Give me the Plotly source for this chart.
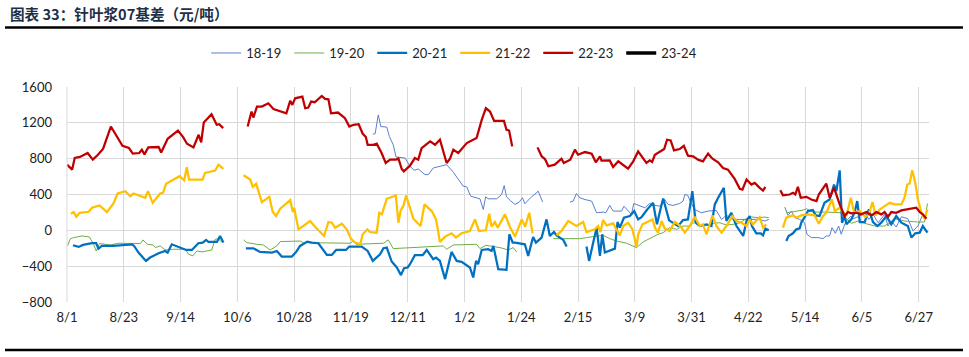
import plotly.graph_objects as go

# ---- tick labels (days since 8/1) ----
tick_days = [0, 22, 44, 66, 88, 110, 132, 154, 176, 198, 220, 242, 264, 286, 308, 330]
tick_labels = ["8/1", "8/23", "9/14", "10/6", "10/28", "11/19", "12/11", "1/2", "1/24",
               "2/15", "3/9", "3/31", "4/22", "5/14", "6/5", "6/27"]
y_ticks = [-800, -400, 0, 400, 800, 1200, 1600]

# ---- series: 18-19 ----
d_1819 = [118.5,119.4,120.6,121.6,123.9,124.9,126.4,127.5,131,132.9,134.5,136.1,138.7,140,141.9,147.1,149.7,153.5,154.9,156.4,160,161.3,162.2,163.2,166.5,168.4,169.4,170.3,172,173.6,175.2,176.5,177.4,179.6,182.6,184.3,
          189,
          194.9,196.1,197.4,198.7,200.7,203.3,205.2,207.7,208.8,210.3,211.6,213.6,214.9,215.8,217.4,218.7,219.6,221.9,223.9,225.8,227.8,229.7,231.6,232.9,234.8,237.4,238.7,239.4,240.6,241.6,243.2,245.8,248.4,251.6,253.6,255.5,258.1,260.7,262.6,265.2,267.8,270.4,271.9,
          275,
          278.1,279.4,280.7,282,283.9,285.8,286.7,288.4,291,292.9,294.2,295.5,296.4,297.7,299,300,301.1,302,303.7,304.6,307.2,309.1,310.7,312.3,314.3,315.5,316.8,318.1,319.4,321.3,323.3,325.8,327.8,329.7,331.6]
v_1819 = [1074,1078,1289,1159,1152,1048,955,819,807,715,670,685,622,622,696,733,648,493,485,381,352,233,374,352,352,400,500,374,326,289,315,363,296,363,437,315,
          None,
          315,326,411,363,344,326,196,204,196,278,215,215,215,270,215,178,300,278,252,300,278,270,344,289,278,300,326,400,389,315,233,196,215,222,122,167,122,122,122,130,122,104,122,
          None,
          259,167,215,141,122,85,-44,-81,-81,-93,-63,-63,30,-33,48,-44,48,104,159,130,159,196,122,178,85,130,178,48,104,37,152,130,-7,48,178]

# ---- series: 19-20 ----
d_1920 = [0.2,1.3,2.6,5.8,8.7,10.3,11.3,12.6,16.8,20,28.4,29.4,31.2,33.3,34.2,36.1,38,41.3,45.8,47.1,48.8,50.3,52.3,56.1,57.4,58.7,60,
          64,
          68.4,69.7,73.6,76.1,78.7,81.3,82.6,90.3,91.6,109.7,111,112,122.6,124.5,126.4,132.9,136.8,145.8,147.1,149.7,158.7,160,162.3,167.8,171,172.9,174.2,
          180,
          188.4,191,194.9,198.7,201.3,205.2,207.7,210.3,212.9,216.8,220.7,223.2,225.8,229,231,233.5,236.2,238.7,241.3,243.2,245.2,247.8,250.3,252.9,255.5,258.1,260.7,263.3,264.5,267.8,270.4,271.9,
          275,
          278.7,281.3,285.2,286.5,289,293.5,297.5,300,302,303.9,306.5,309.1,313,316.8,320.7,324.5,329.7,332.3,333.4]
v_1920 = [-174,-93,-81,-63,-74,-156,-230,-148,-163,-144,-148,-107,-156,-163,-193,-174,-219,-211,-211,-267,-285,-230,-241,-219,-100,-93,-137,
          None,
          -107,-137,-156,-163,-219,-174,-126,-119,-137,-144,-119,-156,-144,-107,-204,-193,-185,-174,-211,-163,-156,-204,-167,-193,-219,-193,-241,
          None,
          -93,-93,-100,-93,-81,-63,-56,-93,-119,-144,-193,-130,-93,-44,-26,30,11,48,48,93,48,59,78,85,59,67,85,130,152,141,148,141,
          None,
          196,207,226,241,204,204,196,196,130,78,104,78,48,48,130,104,93,93,300]

# ---- series: 20-21 ----
d_2021 = [2.3,3.6,4.5,6.2,9.7,11.3,12.2,13.5,18,25.2,26,27.7,30.6,32.2,35.5,38,39,40.6,43.9,46.2,48.4,50.9,52.6,53.9,54.8,58.1,59.3,60.6,
          65,
          69.3,72.2,74.8,79.4,81.3,83.2,87.1,88.8,90.3,93.1,94.8,97.4,100.7,102.6,104.3,108.1,109.4,114.2,116.5,118.5,121.3,122.6,123.9,125.8,127.8,129.4,130.6,132,132.9,134.8,137.8,139.4,141.9,143,144.5,146.5,149,151,152.9,154.9,156.1,157.4,158.5,159.3,160.7,163.2,164.5,165.2,167.1,170.3,171.4,172.7,173.6,177.4,178.7,180.6,181.7,183.9,185.8,187.1,188.7,189.7,192.3,193.6,
          197,
          201.3,202.3,203.9,205.2,206.5,207.4,208.4,212.3,213.3,214.2,215.8,218.1,219.8,221.3,222.6,224.8,227.1,228.6,230,231,233.3,234.8,236.8,238.7,240.6,242.3,243.6,245.2,247.8,249.7,251,252.3,254.5,255.5,257.4,259.4,262,263.3,264.5,265.4,267.1,268.8,269.7,270.6,271.9,
          275,
          278.7,279.6,281.3,282.6,283.9,284.5,285.8,287.1,289,290.1,291.6,293.5,295.5,297.2,298.1,299.4,300.3,301.3,302,303.9,305.2,306.2,307.2,309.1,310.7,312.3,314,315.5,317.5,319.4,321.3,323.3,325.8,327.2,328.7,330.4,331.6,333.4]
v_2021 = [-167,-174,-185,-163,-144,-144,-204,-174,-174,-156,-174,-248,-341,-304,-256,-230,-248,-156,-193,-219,-219,-144,-137,-107,-130,-130,-63,-137,
          None,
          -200,-200,-241,-248,-230,-293,-293,-241,-174,-126,-137,-144,-274,-274,-219,-219,-181,-181,-230,-341,-267,-200,-193,-348,-415,-500,-422,-415,-378,-278,-278,-219,-322,-304,-341,-544,-241,-341,-352,-396,-415,-526,-341,-378,-219,-211,-230,-174,-433,-441,-44,-137,-137,-156,-285,-74,-137,-81,122,-63,-19,-56,-107,-181,
          None,
          -181,-341,-137,30,-285,-44,-248,-204,93,30,141,159,215,122,148,233,307,67,241,356,111,85,48,115,122,437,85,48,67,48,289,363,474,104,196,48,-63,104,159,48,-33,-33,-56,19,0,
          None,
          -119,-63,-33,11,22,85,148,215,226,167,159,307,344,511,437,670,85,159,67,122,204,326,93,93,233,93,48,85,159,67,159,85,48,-81,-33,-26,48,-26]

# ---- series: 21-22 ----
d_2122 = [1.5,2.6,3.6,4.9,8.4,9.7,12.6,15.5,18,19.6,22.6,24.5,25.8,29,30.3,31.4,33.2,36.1,37.2,38.4,41.3,43.6,45.4,46.4,47.3,52.5,53.5,57.4,58.7,60.6,
          65,
          68.4,71,72,73.3,75.5,78.4,79.7,81,82.6,86.5,87.5,88,89.7,94.2,96.1,99.6,101.3,102.6,103.9,106.5,108.4,110,111.6,113.6,114.6,116.4,117.4,120,121,122,123.9,127.4,128.4,129.3,130.3,131.4,
          134.2,137,138.5,141.3,143,144.5,146.5,149,150.7,152.9,156.1,158.1,159.6,162.3,163.6,164.5,165.8,166.9,169.7,171.6,173.6,176.2,177.5,179.1,180.4,
          184,
          189.7,191.6,194.2,196.1,197.4,200,201.3,204.5,205.8,206.7,207.7,209.1,211.6,214.2,215.5,217.4,219.1,220.7,221.3,223,225.2,226.9,227.8,229,230.4,231.6,233.5,235.5,237.7,239.4,241.3,243.2,245.2,246.4,247.8,250.1,251.6,253.6,255.5,257.8,259.4,261.3,263.3,264.5,265.8,268.4,269.7,271,
          274,
          277.4,278.7,281.3,282.6,284.5,287.1,289.7,291.3,292.9,294.2,296.4,297.5,299.4,301.1,302,303.7,305,307.2,309.3,310.7,312.1,313.3,314.9,316.8,318.8,320.7,323.3,324.5,325.6,326.5,327.5,328.7,329.7,331,332.3,333.4]
v_2122 = [185,204,152,196,207,252,278,204,300,411,437,381,411,381,363,437,307,411,419,519,567,604,559,704,567,567,641,667,733,685,
          None,
          615,567,485,519,315,374,207,159,241,337,204,252,11,104,41,-63,93,85,30,74,11,-93,-137,-156,-44,11,-19,-26,196,178,352,389,85,222,270,389,
          130,48,289,215,122,-130,-70,-33,-81,-33,-7,122,-7,0,185,41,93,30,178,41,-70,122,41,196,-33,
          None,
          -56,-7,104,67,48,93,-19,11,48,-19,115,56,78,-56,48,85,11,-185,-44,67,96,122,30,-26,104,19,-7,93,48,-26,48,152,48,67,-44,167,48,-26,48,159,104,85,48,122,67,148,30,67,
          None,
          30,141,167,141,167,178,167,74,159,196,344,215,252,196,159,363,196,215,148,178,315,167,233,270,307,289,289,363,511,522,670,530,344,204,130,233]

# ---- series: 22-23 ----
d_2223 = [0,2,3,5,8,10,12,14,17,19,21.5,24,25.5,28,29,30,31.5,35.5,36.5,39,43,45,46.5,49,51,52,53,56,58,59,60.5,
          65,
          70,71.5,72.2,73.6,75.5,78,80,81.3,82.6,85,86.5,87.3,88.4,91.2,92.3,93.5,94.6,96,98.7,100,101.3,102.3,105,107.7,109.4,111,113,114.6,115.8,116.5,118.7,120,121.9,123.5,125.2,127.4,128.4,129.7,130.5,132.9,134.8,136.1,137.4,140.7,142.6,144.5,147.1,148.4,149.7,151.6,154.9,158.7,160.7,162.3,163.9,165.5,169.3,170.3,171.3,172.5,
          177,
          182.3,183.9,185.2,186.5,189,191.6,192.5,195,196.8,198,200.7,203.3,204.9,206.5,207.1,210.3,211.6,213.6,217.4,219.4,221.3,223,224.5,225.8,226.7,227.8,230.4,231.4,232.5,233.9,235.2,237.4,239,240.6,242.6,244.5,246.4,248.4,250.1,252.3,254.2,256.1,258.7,260.7,261.7,263.3,265.2,266.5,268.4,269.7,270.6,
          274,
          276.4,277.4,280,281.3,282.2,283.2,284.3,286.5,288.4,290.4,291.3,294.2,295.5,297.2,299.4,301.3,302.6,303.9,305.9,307.8,309.7,311.7,313.6,315.5,316.8,318.1,319.4,321.3,323.3,325.8,329.1,330.4,331.6,333]
v_2223 = [733,678,808,819,863,789,844,911,1159,1067,944,919,856,863,900,848,926,930,870,1022,1114,1041,967,926,1067,981,1203,1296,1178,1185,1141,
          None,
          1159,1326,1259,1381,1381,1418,1355,1344,1326,1307,1448,1400,1474,1492,1363,1370,1437,1430,1500,1467,1463,1307,1315,1252,1159,1178,1185,1078,1041,955,955,967,863,752,789,789,803,685,659,722,807,789,918,993,955,1011,752,800,900,863,974,1030,1233,1363,1326,1222,1222,1122,1114,937,
          None,
          926,826,796,715,733,800,752,789,900,844,874,856,759,826,778,781,707,770,689,770,881,807,752,781,763,844,889,907,1011,1003,892,907,944,833,826,789,770,856,800,759,696,678,574,463,455,567,511,530,474,444,485,
          None,
          448,392,400,419,400,485,363,374,344,326,400,522,363,474,289,159,204,189,196,178,204,167,204,178,204,152,204,196,222,233,252,204,178,130]

# ---- series: 23-24 (legend only, no data shown) ----
d_2324 = [None]
v_2324 = [None]

series = [
    ("18-19", d_1819, v_1819, "#5B7FCF", 1.0),
    ("19-20", d_1920, v_1920, "#70AD47", 1.0),
    ("20-21", d_2021, v_2021, "#0070C0", 2.25),
    ("21-22", d_2122, v_2122, "#FFC000", 2.25),
    ("22-23", d_2223, v_2223, "#C00000", 2.25),
    ("23-24", d_2324, v_2324, "#000000", 3.5),
]

fig = go.Figure()
for name, d, v, color, w in series:
    fig.add_trace(go.Scatter(x=d, y=v, mode="lines", name=name, showlegend=True,
                             line=dict(color=color, width=w), connectgaps=False))

FONT = "Lato, 'DejaVu Sans', sans-serif"
fig.update_layout(
    width=969, height=357,
    margin=dict(l=67, r=40, t=87, b=55),
    paper_bgcolor="white", plot_bgcolor="white",
    font=dict(family=FONT, size=13, color="#222222"),
    showlegend=True,
    legend=dict(orientation="h", x=0.1615, xanchor="left", y=1.158, yanchor="middle",
                font=dict(size=13, color="#222222"),
                entrywidth=38, entrywidthmode="pixels",
                bgcolor="rgba(0,0,0,0)", traceorder="normal"),
    xaxis=dict(range=[0, 334], tickmode="array", tickvals=tick_days, ticktext=tick_labels,
               showgrid=True, gridcolor="#D9D9D9", gridwidth=1,
               zeroline=False, showline=False, ticks="", ticklabelstandoff=6,
               tickfont=dict(size=13, color="#222222")),
    yaxis=dict(range=[-800, 1600], tickmode="array", tickvals=y_ticks,
               showgrid=True, gridcolor="#D9D9D9", gridwidth=1,
               zeroline=False, showline=False, ticks="", ticklabelstandoff=14,
               tickfont=dict(size=13, color="#222222")),
    annotations=[dict(text="<b>图表 33：针叶浆07基差（元/吨）</b>", xref="paper", yref="paper",
                      x=-0.069, y=1.34, xanchor="left", yanchor="middle", showarrow=False,
                      font=dict(family="'Noto Sans CJK SC', sans-serif", size=14.6, color="#1F2F45"))],
    shapes=[
        dict(type="line", xref="paper", yref="paper", x0=-0.0719, x1=1.0394, y0=1.277, y1=1.277,
             line=dict(color="black", width=2.5)),
        dict(type="line", xref="paper", yref="paper", x0=-0.0719, x1=1.0394, y0=-0.223, y1=-0.223,
             line=dict(color="black", width=2.5)),
        dict(type="line", xref="paper", yref="paper", x0=0, x1=0, y0=0, y1=1,
             line=dict(color="#D9D9D9", width=1)),
    ],
)

fig.write_html("out.html", config={"displayModeBar": False},
               post_script="document.body.style.margin='0';document.body.style.padding='0';")
